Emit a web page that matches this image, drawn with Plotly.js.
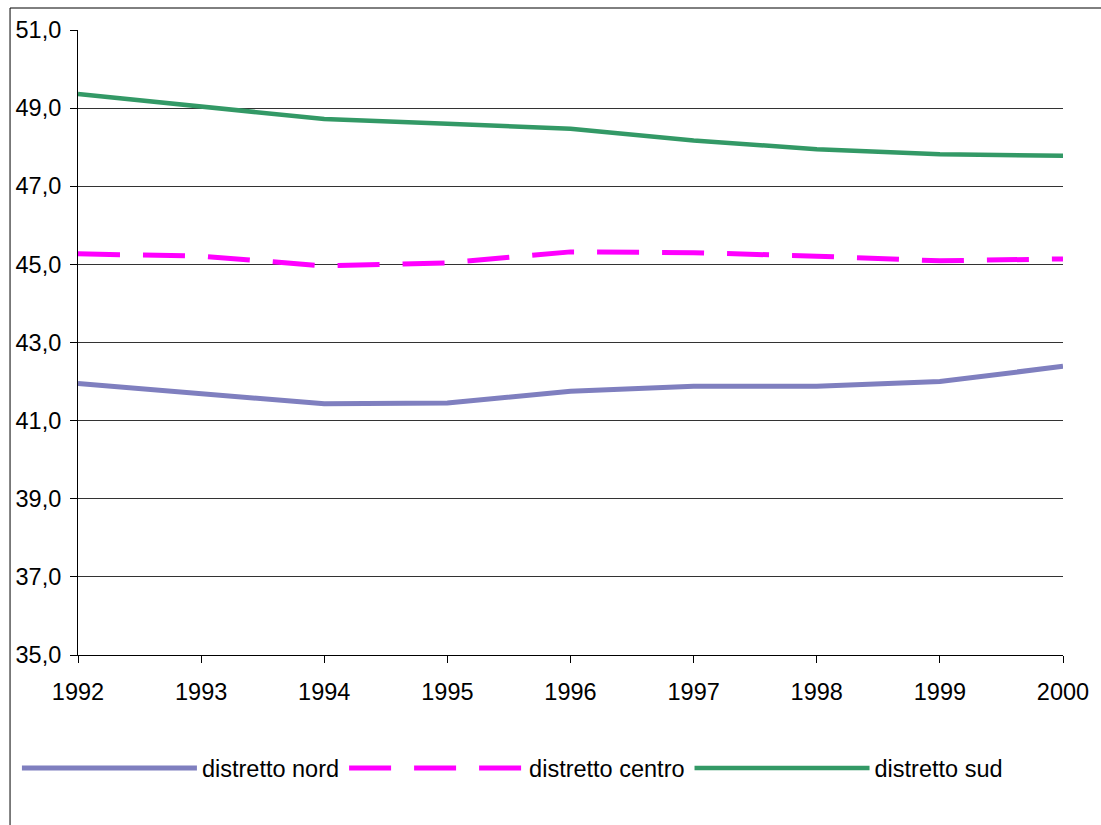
<!DOCTYPE html>
<html>
<head>
<meta charset="utf-8">
<script src="https://cdn.plot.ly/plotly-3.0.1.min.js"></script>
<style>html,body{margin:0;padding:0;background:#fff;}</style>
</head>
<body>
<div id="chart" style="width:1101px;height:825px;"></div>
<script>
const years = [1992, 1993, 1994, 1995, 1996, 1997, 1998, 1999, 2000];
const nord = [41.95, 41.69, 41.43, 41.45, 41.75, 41.88, 41.88, 42.00, 42.39];
const centro = [45.27, 45.21, 44.96, 45.04, 45.32, 45.30, 45.21, 45.09, 45.14];
const sud = [49.36, 49.05, 48.72, 48.60, 48.47, 48.17, 47.95, 47.82, 47.78];
const seriesNames = ['distretto nord', 'distretto centro', 'distretto sud'];

const traces = [
  {x: years, y: nord, name: seriesNames[0], type: 'scatter', mode: 'lines',
   line: {color: '#7F7FBF', width: 5}},
  {x: years, y: centro, name: seriesNames[1], type: 'scatter', mode: 'lines',
   line: {color: '#FF00FF', width: 5, dash: '42px,23px'}},
  {x: years, y: sud, name: seriesNames[2], type: 'scatter', mode: 'lines',
   line: {color: '#339966', width: 4.5}}
];

const layout = {
  width: 1101, height: 825,
  margin: {l: 78, r: 38, t: 30, b: 170, pad: 0},
  paper_bgcolor: '#fff', plot_bgcolor: '#fff',
  separators: ',.',
  font: {family: '"Liberation Sans", Arial, sans-serif', size: 23.5, color: '#000'},
  showlegend: true,
  legend: {orientation: 'h', x: -0.062, y: -0.181, xanchor: 'left', yanchor: 'middle',
           itemwidth: 175, font: {size: 23.5}, bgcolor: 'rgba(0,0,0,0)', tracegroupgap: 0},
  xaxis: {range: [1992, 2000], tickvals: years, ticktext: years.map(String),
          ticks: 'outside', ticklen: 7, tickcolor: '#000', showgrid: false,
          showline: true, linecolor: '#000', linewidth: 1, zeroline: false,
          ticklabelstandoff: 9, fixedrange: true},
  yaxis: {range: [35, 51], dtick: 2, tick0: 35, tickformat: '.1f',
          ticks: 'outside', ticklen: 7, tickcolor: '#000',
          showgrid: true, gridcolor: '#333', gridwidth: 1,
          showline: true, linecolor: '#000', linewidth: 1, zeroline: false,
          ticklabelstandoff: 4, fixedrange: true},
  shapes: [
    {type: 'rect', xref: 'paper', yref: 'paper', x0: -0.069, x1: 1.2, y0: -0.4, y1: 1.0352,
     line: {color: '#000', width: 1}, fillcolor: 'rgba(0,0,0,0)', layer: 'below'}
  ]
};

Plotly.newPlot('chart', traces, layout, {displayModeBar: false, staticPlot: true});
</script>
</body>
</html>
